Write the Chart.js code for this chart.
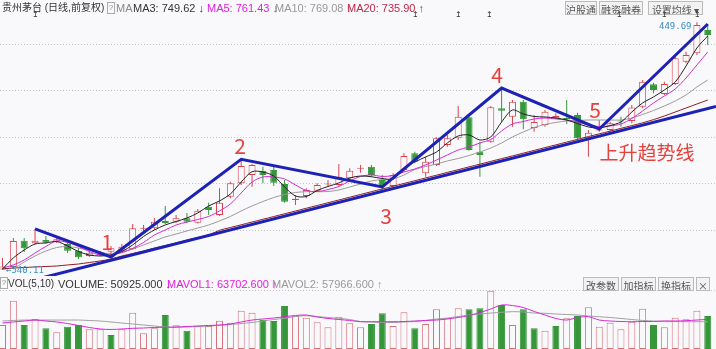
<!DOCTYPE html>
<html>
<head>
<meta charset="utf-8">
<script src="https://cdn.jsdelivr.net/npm/chart.js@4.4.1/dist/chart.umd.min.js"></script>
<style>
  html, body { margin: 0; padding: 0; background: #f9f9fb; }
  #wrap { position: relative; width: 716px; height: 349px; overflow: hidden;
          font-family: "Liberation Sans", "Noto Sans CJK SC", sans-serif; }
  canvas { position: absolute; left: 0; }
  .t { position: absolute; white-space: nowrap; font-size: 11px; line-height: 14px; color: #333; }
  .q { position: absolute; width: 6px; height: 10px; border: 1px solid #aaa; font-size: 8px;
       line-height: 10px; text-align: center; color: #888; box-sizing: content-box; }
  .btn { position: absolute; height: 14px; line-height: 12px; border: 1px solid #bbb; background: #f2f2f2;
         color: #555; font: 10px "Noto Sans CJK SC", sans-serif; text-align: center; box-sizing: border-box;
         white-space: nowrap; overflow: hidden; }
  .tick { position: absolute; top: 11px; font-size: 8px; line-height: 8px; color: #333; transform: translateX(-50%); }
  .num { position: absolute; font: 21px "Noto Sans CJK SC", sans-serif; color: #e6423c; white-space: nowrap;
         transform: translate(-50%, -50%); line-height: 1; }
  .ext { position: absolute; font: 9px "DejaVu Sans Mono", monospace; color: #3a8cc2; line-height: 10px; white-space: nowrap; }
</style>
</head>
<body>
<div id="wrap">
  <canvas id="price" width="716" height="276" style="top:0"></canvas>
  <canvas id="volume" width="716" height="65" style="top:284px"></canvas>

  <!-- header of the price panel -->
  <div class="t" style="left:2px;top:0;font-size:10px;line-height:16px;">贵州茅台 (日线,前复权)</div>
  <div class="q" style="left:107px;top:2px;">?</div>
  <div class="t" style="left:116px;top:1px;color:#888;">MA</div>
  <div class="t" style="left:133px;top:1px;">MA3: 749.62 ↓</div>
  <div class="t" style="left:207px;top:1px;color:#e020e0;">MA5: 761.43 ↓</div>
  <div class="t" style="left:275px;top:1px;color:#999;">MA10: 769.08 ↑</div>
  <div class="t" style="left:347px;top:1px;color:#c02848;">MA20: 735.90 ↑</div>
  <div class="btn" style="left:565px;top:1px;width:32px;">沪股通</div>
  <div class="btn" style="left:599px;top:1px;width:44px;">融资融券</div>
  <div class="btn" style="left:648px;top:1px;width:55px;">设置均线 ▾</div>
  <div class="tick" style="left:35px;">↥</div>
  <div class="tick" style="left:415px;">↥</div>
  <div class="tick" style="left:458px;">↥</div>
  <div class="tick" style="left:489px;">↥</div>
  <div class="tick" style="left:619px;">↥</div>
  <div class="tick" style="left:664px;">↥</div>
  <div class="tick" style="left:697px;">↥</div>

  <!-- extreme values -->
  <div class="ext" style="left:659px;top:21px;">449.69</div>
  <div class="ext" style="left:6px;top:265px;">←540.11</div>

  <!-- wave marks -->
  <div class="num" style="left:107px;top:241px;">1</div>
  <div class="num" style="left:240px;top:145px;">2</div>
  <div class="num" style="left:386px;top:215px;">3</div>
  <div class="num" style="left:497px;top:74px;">4</div>
  <div class="num" style="left:595px;top:109px;">5</div>
  <div class="num" style="left:647px;top:151px;font-size:19px;">上升趋势线</div>

  <!-- header of the volume panel -->
  <div class="q" style="left:0;top:277px;">?</div>
  <div class="t" style="left:8px;top:277px;font-size:10px;">VOL(5,10)</div>
  <div class="t" style="left:58px;top:277px;">VOLUME: 50925.000 ↓</div>
  <div class="t" style="left:167px;top:277px;color:#e020e0;">MAVOL1: 63702.600 ↑</div>
  <div class="t" style="left:272px;top:277px;color:#999;">MAVOL2: 57966.600 ↑</div>
  <div class="btn" style="left:583px;top:277px;width:36px;">改参数</div>
  <div class="btn" style="left:621px;top:277px;width:35px;">加指标</div>
  <div class="btn" style="left:658px;top:277px;width:36px;">换指标</div>
  <div class="btn" style="left:696px;top:277px;width:14px;">×</div>
</div>

<script>
// daily candles, oldest first
const opens = [540.6,543.8,576.6,573.4,577.5,575.4,572.5,564.1,557.5,558.8,
  562.9,564.1,565.9,591.5,592.1,601.3,600.4,604.6,599.1,619.1,
  608.8,631.6,648.4,658.8,664.1,665.0,647.5,627.5,632.5,639.1,
  646.9,646.3,654.6,666.6,669.1,652.5,645.0,665.0,685.9,660.9,
  671.3,696.3,704.6,730.9,687.9,700.4,742.1,731.6,750.4,717.5,
  721.3,729.6,730.0,733.8,704.6,714.4,715.0,726.9,726.3,744.1,
  772.1,760.0,772.5,800.4,810.9,840.0];
const closes = [544.4,576.3,567.1,576.6,574.1,578.4,564.1,555.9,561.6,560.9,
  567.1,569.1,592.1,592.3,600.4,598.8,604.6,600.4,614.1,615.0,
  624.1,648.4,670.0,671.3,658.8,649.1,625.4,629.1,640.0,646.3,
  647.5,656.6,664.1,667.5,658.8,645.0,658.8,682.5,675.4,675.4,
  704.6,704.6,731.6,690.0,683.8,743.4,739.1,750.4,728.4,725.0,
  737.9,732.5,728.1,704.6,711.6,715.6,723.4,725.6,743.1,775.4,
  765.0,772.5,804.6,808.8,846.3,833.8];
const highs = [555.0,580.0,580.0,591.3,582.5,581.3,577.5,567.5,565.0,563.8,
  570.0,572.5,597.5,596.3,605.0,620.0,608.8,611.3,616.3,624.1,
  642.1,650.4,678.4,672.5,669.1,669.1,652.5,633.8,642.1,648.4,
  652.5,672.5,667.1,671.3,671.3,658.8,660.9,685.9,687.9,681.6,
  705.9,708.8,745.0,731.6,700.4,745.0,767.1,752.5,752.5,733.8,
  740.0,735.9,752.5,736.6,715.0,727.5,725.4,731.6,746.3,777.5,
  774.1,775.4,806.6,812.9,849.7,847.5];
const lows = [540.1,542.5,562.5,571.9,573.1,573.8,561.3,553.8,556.3,557.5,
  556.3,562.5,565.0,587.5,590.0,597.5,598.8,598.8,598.1,608.8,
  607.5,629.6,646.3,644.1,648.4,645.0,624.1,621.3,629.6,637.9,
  644.1,645.0,652.5,661.6,656.6,640.0,644.1,662.9,673.4,656.6,
  670.0,694.1,702.5,689.1,656.6,699.1,725.4,719.1,715.9,712.9,
  719.1,729.0,722.5,702.5,681.6,712.9,712.9,719.1,723.4,742.1,
  760.9,758.8,771.3,798.4,808.8,821.3];

// moving averages as shown on the chart
const ma3 = [541.3,555.0,565.0,572.5,573.8,575.6,570.0,563.1,558.8,557.5,
  558.8,563.1,571.3,581.9,590.0,596.3,600.6,605.0,611.3,620.0,
  626.3,635.0,650.0,662.9,662.5,657.5,643.8,632.5,631.9,639.4,
  644.4,648.8,655.0,657.5,656.6,654.4,653.8,667.5,675.0,681.3,
  687.5,698.8,707.5,708.8,702.5,706.3,725.0,740.0,735.0,731.9,
  731.3,730.0,727.5,723.1,718.8,717.5,720.6,725.0,737.5,748.8,
  756.3,765.0,775.0,795.0,817.5,832.5];
const ma5 = [542.5,546.3,552.5,561.3,569.4,576.3,574.4,569.4,563.1,558.8,
  558.8,561.6,567.1,574.4,583.8,590.0,596.3,600.0,603.1,606.9,
  613.8,622.5,636.3,650.0,656.3,656.3,653.8,646.3,639.4,638.1,
  640.6,644.4,651.3,656.9,658.8,656.9,658.1,662.5,666.3,671.3,
  677.5,683.8,690.0,693.8,698.8,703.1,713.8,722.5,725.6,728.8,
  730.0,728.8,727.5,725.0,721.3,719.4,720.0,722.5,729.4,738.8,
  748.8,757.5,766.3,780.0,796.3,812.5];
const ma10 = [null,541.3,550.0,557.5,563.8,568.1,569.4,567.5,564.4,561.9,
  560.6,562.5,566.3,571.3,576.3,581.3,585.0,588.8,592.5,596.3,
  601.3,606.9,613.8,620.0,625.6,630.6,634.4,636.9,637.9,637.9,
  638.1,640.0,643.8,647.5,651.3,653.1,653.8,658.8,665.6,669.4,
  672.5,676.3,679.4,683.1,687.5,692.5,698.8,706.3,712.5,718.1,
  721.9,724.4,726.3,726.9,727.5,727.5,727.5,727.5,730.0,734.4,
  739.4,745.0,751.3,758.8,768.8,777.5];
const ma20 = [541.3,542.5,543.1,543.8,544.4,545.0,546.3,547.5,549.4,551.3,
  553.8,557.5,560.6,563.8,567.5,570.6,573.8,577.5,580.6,583.8,
  589.6,593.1,596.5,600.0,603.4,606.8,610.3,613.7,617.2,620.6,
  624.1,627.5,631.0,634.4,637.9,641.3,644.7,648.2,651.6,655.1,
  658.5,662.0,665.4,668.9,672.3,675.8,679.2,682.6,686.1,689.5,
  693.0,696.4,699.9,703.3,706.8,710.2,713.6,717.1,720.5,724.0,
  728.0,732.5,737.5,742.5,747.5,752.5];

// volume panel
const volumes = [37000,74500,37000,46300,31900,25800,34400,37000,30400,30400,
  21600,30400,56000,24200,31900,52500,36600,28200,35500,35500,
  43700,40600,59100,56000,44700,43200,66300,51400,48300,41200,
  33500,49800,39700,33500,38600,55100,35500,56600,31900,38600,
  61300,47400,62800,61300,62800,90000,67900,37000,61300,31900,
  28200,35500,47400,50900,64300,34400,40600,30400,42100,62200,
  37000,33500,48300,45800,59100,50925];
const volFalling = [0,0,1,0,1,0,1,1,0,0, 1,0,0,0,0,1,0,1,0,0,
  0,0,0,0,1,1,1,0,0,0, 0,0,0,0,1,1,0,0,1,0,
  0,0,0,1,1,0,1,0,1,1, 0,1,0,1,0,0,0,0,0,0, 1,0,0,0,0,1];
const mavol1 = [40100,41700,43200,44700,43200,41700,39300,36300,33200,30900,
  30100,30900,31900,32400,33200,33500,33900,34700,35500,36300,
  37000,38600,41700,44700,46300,47800,49800,51700,52500,49400,
  47100,45500,44000,42100,42100,42100,42100,42400,43200,44000,
  44700,46300,48600,51700,56300,61700,67900,67100,64000,57900,
  52500,47100,44700,48600,49800,44700,43200,42400,42100,42400,
  42400,43200,43200,43700,44700,45800];
const mavol2 = [43200,44000,44700,44700,44700,44700,44700,44700,44000,43200,
  41700,40100,38600,37000,35500,33900,33500,33900,34700,35500,
  36300,37800,39300,40900,43200,45500,47400,50100,51400,50100,
  48600,47400,45500,42400,41700,40900,40900,41700,42400,44000,
  46300,47800,50100,52500,54000,55500,56600,57600,57100,55500,
  55100,54000,53200,52500,50900,49800,48600,47100,45500,44000,
  43200,42700,42400,42100,42100,42100];

// hand drawn wave line and rising trend line (day index, price)
const waveDays = [3, 10, 22, 35, 46, 55, 65];
const wavePrices = [591.3, 556.3, 678.4, 643.8, 767.5, 716.3, 847.5];
const trendDays = [3, 65.76];
const trendPrices = [528.0, 744.3];

const priceGrid = [590, 648, 706, 764, 822];
const volGrid = [91000];

const BG = '#f9f9fb';
const RED = '#d8434f';
const GREEN = '#35963a';
const BLUE = '#1e22b4';

const days = opens.map((_, i) => i);
const rising = days.map(i => closes[i] >= opens[i]);

function pts(xs, ys) {
    return xs.map((x, i) => ({x: x, y: ys[i]}));
}

function maLine(values, color, order) {
    return {
        type: 'line',
        data: pts(days, values),
        borderColor: color,
        borderWidth: 1,
        pointRadius: 0,
        tension: 0.3,
        order: order
    };
}

function xAxis() {
    return {type: 'linear', min: -0.23, max: 65.76, offset: false, display: false};
}

function yAxis(min, max, grid) {
    return {
        min: min,
        max: max,
        afterBuildTicks: s => { s.ticks = grid.map(v => ({value: v})); },
        ticks: {display: false},
        grid: {color: '#c4c4c4', drawTicks: false, lineWidth: 1},
        border: {display: false, dash: [1, 2]}
    };
}

const common = {
    responsive: false,
    animation: false,
    devicePixelRatio: 1,
    events: [],
    layout: {padding: 0},
    plugins: {legend: {display: false}, tooltip: {enabled: false}}
};

// price panel
new Chart(document.getElementById('price'), {
    type: 'bar',
    data: {
        datasets: [
            {
                // wicks
                data: days.map(i => ({x: i, y: [lows[i], highs[i]]})),
                backgroundColor: rising.map(r => r ? RED : GREEN),
                barThickness: 1,
                grouped: false,
                inflateAmount: 0,
                order: 6
            },
            {
                // bodies
                data: days.map(i => ({x: i, y: [opens[i], closes[i]]})),
                backgroundColor: rising.map(r => r ? BG : GREEN),
                borderColor: rising.map(r => r ? RED : GREEN),
                borderWidth: 1,
                borderSkipped: false,
                barThickness: 7,
                minBarLength: 1,
                grouped: false,
                inflateAmount: 0,
                order: 5
            },
            maLine(ma20, '#8e1c24', 4),
            maLine(ma10, '#9a9a9a', 3),
            maLine(ma5, '#d42ad4', 2),
            maLine(ma3, '#222222', 1),
            {
                type: 'line',
                data: pts(waveDays, wavePrices),
                borderColor: BLUE,
                borderWidth: 3,
                pointRadius: 0,
                tension: 0,
                order: 0
            },
            {
                type: 'line',
                data: pts(trendDays, trendPrices),
                borderColor: BLUE,
                borderWidth: 3,
                pointRadius: 0,
                tension: 0,
                order: 0
            }
        ]
    },
    options: Object.assign({}, common, {
        scales: {x: xAxis(), y: yAxis(532.5, 877.5, priceGrid)}
    })
});

// volume panel
new Chart(document.getElementById('volume'), {
    type: 'bar',
    data: {
        datasets: [
            {
                data: pts(days, volumes),
                backgroundColor: volFalling.map(f => f ? GREEN : BG),
                borderColor: volFalling.map(f => f ? GREEN : '#d6707a'),
                borderWidth: 1,
                borderSkipped: false,
                barThickness: 7,
                inflateAmount: 0,
                order: 3
            },
            {
                type: 'line',
                data: pts(days, mavol2),
                borderColor: '#a0a0a0',
                borderWidth: 1,
                pointRadius: 0,
                tension: 0.3,
                order: 2
            },
            {
                type: 'line',
                data: pts(days, mavol1),
                borderColor: '#d42ad4',
                borderWidth: 1,
                pointRadius: 0,
                tension: 0.3,
                order: 1
            }
        ]
    },
    options: Object.assign({}, common, {
        scales: {x: xAxis(), y: yAxis(0, 100300, volGrid)}
    })
});
</script>
</body>
</html>
